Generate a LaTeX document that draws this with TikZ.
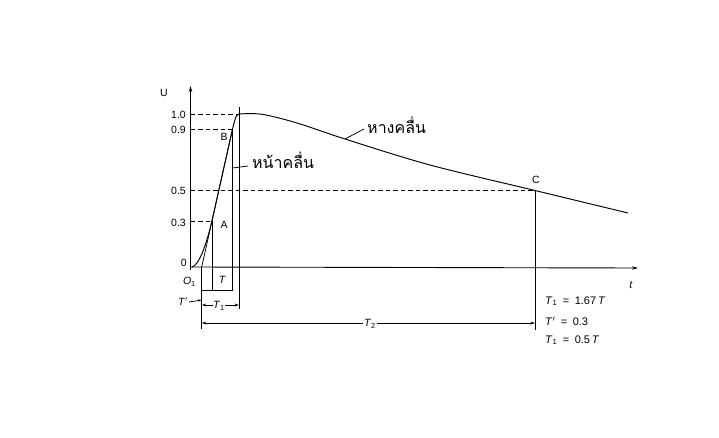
\documentclass[tikz,border=0pt]{standalone}
\usepackage{fontspec}
\setmainfont{Liberation Sans}
\newfontfamily\thaifont[Script=Thai]{Loma}
\usetikzlibrary{arrows.meta}
\begin{document}
\begin{tikzpicture}[x=1pt,y=-1pt,
  lbl/.style={inner sep=1pt,font=\fontsize{10.5}{12}\selectfont},
  frm/.style={inner sep=1pt,font=\fontsize{11}{13}\selectfont},
  thl/.style={inner sep=1pt,font=\thaifont\fontsize{16}{18}\selectfont},
  axisln/.style={line width=0.9pt,-{Stealth[length=6pt,width=3.5pt]}},
  thinln/.style={line width=0.75pt},
  dashln/.style={line width=0.75pt,dash pattern=on 4.5pt off 3pt},
  dimln/.style={line width=0.75pt,{Stealth[length=4.5pt,width=2.8pt]}-{Stealth[length=4.5pt,width=2.8pt]}},
  wave/.style={line width=0.95pt}]
\useasboundingbox (0,0) rectangle (719,438);
% key points
\coordinate (O) at (190.5,267);
\coordinate (ytop) at (190.5,86);
\coordinate (xend) at (638,268);
\coordinate (O1) at (201.7,267);
\coordinate (Apt) at (211.9,221.1);
\coordinate (Bpt) at (232.5,129.3);
\coordinate (peak) at (239,114);
\coordinate (Cpt) at (535,190.5);
\coordinate (tailend) at (628,213);
% axes
\draw[axisln] (190.5,270) -- (ytop);
\draw[axisln] (O) -- (xend);
% dashed levels
\draw[dashln] (190.5,114) -- (peak);
\draw[dashln] (190.5,129.3) -- (Bpt);
\draw[dashln] (190.5,190.5) -- (Cpt);
\draw[dashln] (190.5,221.1) -- (Apt);
% straight front line O1-A-B
\draw[thinln] (O1) -- (Bpt);
% actual waveform
\draw[wave] (192,267) .. controls (199,265) and (206,246) .. (Apt)
  -- (230.5,138) .. controls (234,123) and (235.5,114) .. (peak);
\draw[wave] plot[smooth,tension=0.55] coordinates {(peak) (262,114.3) (297,123) (345,139) (430,165) (Cpt) (tailend)};
% vertical guide lines
\coordinate (O1b) at (201.7,329);
\coordinate (Ab) at (211.9,290);
\coordinate (Bb) at (232.7,290);
\coordinate (Bt) at (232.7,129.3);
\coordinate (Pt) at (239,107);
\coordinate (Pb) at (239,309);
\coordinate (Cb) at (535,330);
\draw[thinln] (O1) -- (O1b);
\draw[thinln] (Apt) -- (Ab);
\draw[thinln] (Bt) -- (Bb);
\draw[thinln] (Pt) -- (Pb);
\draw[thinln] (Cpt) -- (Cb);
% T line
\coordinate (Tl) at (201.7,290);
\draw[thinln] (Tl) -- (Bb);
\node[lbl,font=\itshape\fontsize{10.5}{12}\selectfont] (Tlab) at (222,280) {T};
% T' arrow
\node[lbl] (Tp) at (183,302) {\textit{T}$'$};
\coordinate (Tpa) at (201.7,300);
\draw[thinln,-{Stealth[length=3.5pt,width=2.2pt]}] (Tp.east) -- (Tpa);
% T1 dimension
\coordinate (T1l) at (201.7,305);
\coordinate (T1r) at (239,305);
\draw[dimln] (T1l) -- (T1r);
\node[lbl,fill=white,inner sep=0.5pt] (T1lab) at (219,306) {\textit{T}\textsubscript{1}};
% T2 dimension
\coordinate (T2l) at (201.7,323);
\coordinate (T2r) at (535,323);
\draw[dimln] (T2l) -- (T2r);
\node[lbl,fill=white] (T2lab) at (370,324) {\textit{T}\textsubscript{2}};
% axis labels
\node[lbl] (U) at (164,93) {U};
\node[lbl,anchor=east] (l10) at (187,115) {1.0};
\node[lbl,anchor=east] (l09) at (187,130) {0.9};
\node[lbl,anchor=east] (l05) at (187,191) {0.5};
\node[lbl,anchor=east] (l03) at (187,222.5) {0.3};
\node[lbl,anchor=east] (l0) at (188,263) {0};
\node[lbl,anchor=east] (lO1) at (197,282) {\textit{O}\textsubscript{1}};
\node[lbl] (t) at (631,285) {\textit{t}};
% points
\node[lbl] (A) at (224,225) {A};
\node[lbl] (B) at (224,137) {B};
\node[lbl] (C) at (536,180) {C};
% Thai labels
\coordinate (fl1) at (232.7,168);
\coordinate (fl2) at (248,166);
\draw[thinln] (fl1) -- (fl2);
\node[thl,anchor=base west] (front) at (251,169) {หน้าคลื่น};
\coordinate (tl1) at (345,139);
\coordinate (tl2) at (364,129);
\draw[thinln] (tl1) -- (tl2);
\node[thl,anchor=base west] (tail) at (366,134) {หางคลื่น};
% formulas
\node[frm,anchor=west] (f1) at (544,301) {\textit{T}\textsubscript{1}\enspace=\enspace1.67\,\textit{T}};
\node[frm,anchor=west] (f2) at (544,321) {\textit{T}$'$\enspace=\enspace0.3};
\node[frm,anchor=west] (f3) at (544,340) {\textit{T}\textsubscript{1}\enspace=\enspace0.5\,\textit{T}};
\end{tikzpicture}
\end{document}
